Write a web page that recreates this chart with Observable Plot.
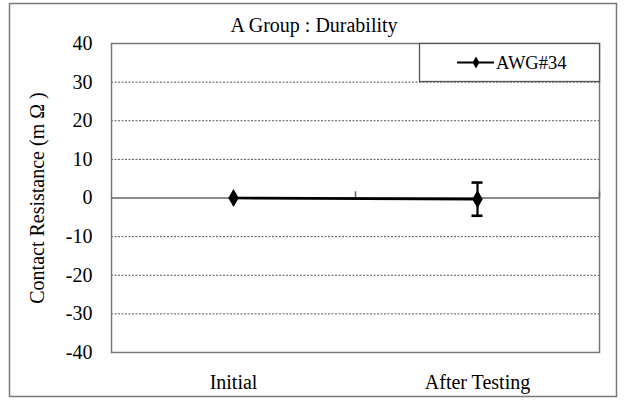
<!DOCTYPE html>
<html><head><meta charset="utf-8">
<script src="https://cdn.jsdelivr.net/npm/d3@7"></script>
<script src="https://cdn.jsdelivr.net/npm/@observablehq/plot@0.6"></script>
<style>
body{margin:0;background:#fff;}
#chart svg{display:block;}
</style></head>
<body><div id="chart"></div>
<script>
const categories = ["Initial", "After Testing"];
const means = [0, -0.3];
const errors = [0, 4.3];
const yTicks = [40, 30, 20, 10, 0, -10, -20, -30, -40];
const gridTicks = [30, 20, 10, -10, -20, -30];
const seriesName = "AWG#34";
const title = "A Group : Durability";
const yLabel = "Contact Resistance (m Ω )";

const data = categories.map((c, i) => ({cat: c, v: means[i], lo: means[i] - errors[i], hi: means[i] + errors[i]}));
const errData = data.filter(d => d.hi !== d.lo);

const FONT = "'Liberation Serif', 'Times New Roman', serif";
const W = 626, H = 405, ML = 111, MR = 27, MT = 43, MB = 53;
const bw = (W - ML - MR) / categories.length;

const plot = Plot.plot({
  width: W, height: H,
  marginLeft: ML, marginRight: MR, marginTop: MT, marginBottom: MB,
  style: {fontFamily: FONT, fontSize: "20px", color: "#000", background: "transparent"},
  x: {type: "band", domain: categories, padding: 0},
  y: {domain: [-40, 40]},
  marks: [
    Plot.gridY(gridTicks, {stroke: "#555", strokeOpacity: 1, strokeDasharray: "2,1.5", strokeWidth: 1}),
    Plot.frame({stroke: "#777", strokeWidth: 1.5}),
    Plot.ruleY([0], {stroke: "#666", strokeWidth: 1.5}),
    Plot.ruleX(categories, {x: d => d, y1: 0, y2: 1.6, dx: bw / 2, stroke: "#666", strokeWidth: 1.5}),
    Plot.axisY(yTicks, {tickSize: 0, tickPadding: 19, fontSize: 20, tickFormat: d => String(d), label: yLabel, labelAnchor: "center", labelArrow: "none", labelOffset: 82}),
    Plot.axisX({tickSize: 0, tickPadding: 22, fontSize: 20, label: null}),
    Plot.line(data, {x: "cat", y: "v", stroke: "#000", strokeWidth: 2.6}),
    Plot.ruleX(errData, {x: "cat", y1: "lo", y2: "hi", stroke: "#000", strokeWidth: 2.2}),
    Plot.tickY(errData, {x: "cat", y: "lo", stroke: "#000", strokeWidth: 2.6, insetLeft: bw / 2 - 5.5, insetRight: bw / 2 - 5.5}),
    Plot.tickY(errData, {x: "cat", y: "hi", stroke: "#000", strokeWidth: 2.6, insetLeft: bw / 2 - 5.5, insetRight: bw / 2 - 5.5}),
    Plot.dot(data, {x: "cat", y: "v", symbol: "diamond", r: 5.5, fill: "#000", stroke: "none"})
  ]
});
document.getElementById("chart").appendChild(plot);

const svg = d3.select(plot);
// outer border (behind everything)
svg.insert("rect", "g").attr("x", 9.5).attr("y", 3.5).attr("width", 607).attr("height", 393)
  .attr("fill", "#fff").attr("stroke", "#777").attr("stroke-width", 1.5);
// title
svg.append("text").attr("x", 314).attr("y", 32)
  .style("text-anchor", "middle").style("font-size", "20px").style("font-family", FONT).style("fill", "#000")
  .text(title);
// legend
const lg = svg.append("g");
lg.append("rect").attr("x", 419.5).attr("y", 43.5).attr("width", 180).attr("height", 38)
  .attr("fill", "#fff").attr("stroke", "#555").attr("stroke-width", 1.3);
lg.append("line").attr("x1", 457).attr("x2", 494).attr("y1", 62.5).attr("y2", 62.5).attr("stroke", "#000").attr("stroke-width", 2);
lg.append("path").attr("d", d3.symbol(d3.symbolDiamond, 40)()).attr("transform", "translate(476,62.5)").attr("fill", "#000");
lg.append("text").attr("x", 496).attr("y", 68.5)
  .style("text-anchor", "start").style("font-size", "18.5px").style("font-family", FONT).style("fill", "#000")
  .text(seriesName);
</script></body></html>
